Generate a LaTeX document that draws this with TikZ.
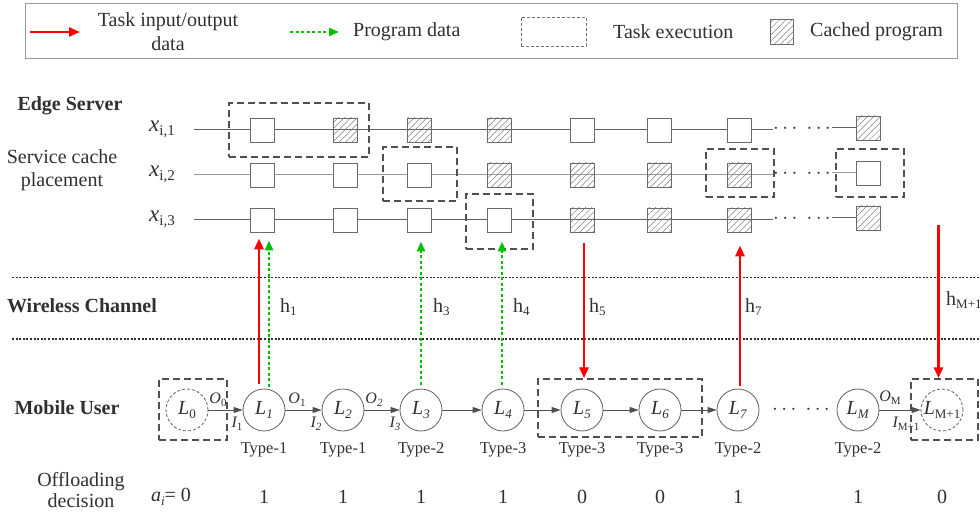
\documentclass[tikz,border=0pt]{standalone}
\usepackage{fontspec}
\setmainfont{Liberation Serif}
\usetikzlibrary{arrows.meta,patterns.meta}
\definecolor{txt}{HTML}{303030}
\definecolor{ln}{HTML}{505050}
\definecolor{lnl}{HTML}{9A9A9A}
\definecolor{redc}{HTML}{FF0000}
\definecolor{grn}{HTML}{00BE00}
\newcommand{\sbx}[2][13]{\raisebox{-0.4ex}{\fontsize{#1}{#1}\selectfont #2}}
\begin{document}
\begin{tikzpicture}[x=1pt,y=-1pt,
  lbl/.style={inner sep=0pt, text=txt, font=\fontsize{20}{23}\selectfont},
  blbl/.style={lbl, font=\fontsize{20}{23}\selectfont\bfseries},
  typ/.style={inner sep=0pt, text=txt, font=\fontsize{16.5}{18}\selectfont},
  io/.style={inner sep=0pt, text=txt, font=\fontsize{16}{18}\selectfont\itshape},
  sq/.style={draw=ln!85, line width=0.9pt, minimum size=24pt, inner sep=0pt, fill=white},
  hsq/.style={draw=ln!85, line width=0.9pt, minimum size=24pt, inner sep=0pt,
    pattern={Lines[angle=45,distance=4.5pt,line width=0.5pt]}, pattern color=gray},
  exbox/.style={draw=ln, dash pattern=on 7pt off 4pt, line width=1.4pt, inner sep=0pt},
  cir/.style={circle, draw=ln!90, line width=0.8pt, minimum size=42pt, inner sep=0pt, text=txt,
    font=\fontsize{20}{22}\selectfont},
  dcir/.style={cir, dash pattern=on 3pt off 2pt},
  flow/.style={draw=ln, line width=1pt, -{Triangle[length=9pt,width=6pt]}},
  redarr/.style={draw=redc, line width=2.8pt, -{Triangle[length=11pt,width=9pt]}},
  grnarr/.style={draw=grn, line width=2.6pt, dash pattern=on 3pt off 2.5pt, -{Triangle[length=10pt,width=8pt]}},
  divider/.style={draw=txt, line width=1.3pt, dash pattern=on 2pt off 1.6pt},
  rowd/.style={draw=ln!90, line width=1pt},
  rowl/.style={draw=lnl, line width=1pt},
  dotsl/.style={inner sep=0pt, text=txt, font=\fontsize{20}{22}\selectfont}
]
\useasboundingbox (0,0) rectangle (980,513);

% ---------------- legend ----------------
\node[draw=lnl, line width=0.8pt, minimum width=932pt, minimum height=55pt, inner sep=0pt] (legend) at (491,30.5) {};
\coordinate (lgra) at (30,32);
\coordinate (lgrb) at (80,32);
\draw[redarr, line width=2.6pt] (lgra) -- (lgrb);
\node[lbl, align=center, font=\fontsize{20}{24}\selectfont] (lgrt) at (168,32) {Task input/output\\data};
\coordinate (lgga) at (290,32);
\coordinate (lggb) at (339,32);
\draw[grnarr] (lgga) -- (lggb);
\node[lbl, anchor=west] (lggt) at (353,32) {Program data};
\node[draw=ln!80, line width=0.7pt, dash pattern=on 3pt off 2pt, minimum width=65pt, minimum height=29pt, inner sep=0pt] (lgbox) at (553.5,32) {};
\node[lbl, anchor=west] (lgbt) at (613,32) {Task execution};
\node[hsq, minimum width=23pt, minimum height=25pt] (lghs) at (782,32) {};
\node[lbl, anchor=west] (lght) at (810,32) {Cached program};

% ---------------- edge server ----------------
\node[blbl] (es) at (70,106) {Edge Server};
\node[lbl, align=center] (scp) at (62,170.5) {Service cache\\placement};
\node[lbl, font=\fontsize{23}{24}\selectfont] (x1) at (162,129) {\textit{x}\sbx[15]{i,1}};
\node[lbl, font=\fontsize{23}{24}\selectfont] (x2) at (162,174) {\textit{x}\sbx[15]{i,2}};
\node[lbl, font=\fontsize{23}{24}\selectfont] (x3) at (162,219) {\textit{x}\sbx[15]{i,3}};

% row lines
\coordinate (r1a) at (194,130); \coordinate (r1b) at (773,130); \coordinate (r1c) at (832,128);
\coordinate (r2a) at (194,175); \coordinate (r2b) at (773,175); \coordinate (r2c) at (832,173);
\coordinate (r3a) at (194,220); \coordinate (r3b) at (773,220); \coordinate (r3c) at (832,218);
\draw[rowd] (r1a) -- (r1b);
\draw[rowl] (r2a) -- (r2b);
\draw[rowd] (r3a) -- (r3b);

% squares row 1
\node[sq]  (s11) at (262,130) {};
\node[hsq] (s21) at (345,130) {};
\node[hsq] (s31) at (419,130) {};
\node[hsq] (s41) at (499,130) {};
\node[sq]  (s51) at (582,130) {};
\node[sq]  (s61) at (659,130) {};
\node[sq]  (s71) at (739,130) {};
\node[hsq] (s81) at (868,128) {};
% row 2
\node[sq]  (s12) at (262,175) {};
\node[sq]  (s22) at (345,175) {};
\node[sq]  (s32) at (419,175) {};
\node[hsq] (s42) at (499,175) {};
\node[hsq] (s52) at (582,175) {};
\node[hsq] (s62) at (659,175) {};
\node[hsq] (s72) at (739,175) {};
\node[sq]  (s82) at (868,173) {};
% row 3
\node[sq]  (s13) at (262,220) {};
\node[sq]  (s23) at (345,220) {};
\node[sq]  (s33) at (419,220) {};
\node[sq]  (s43) at (499,220) {};
\node[hsq] (s53) at (582,220) {};
\node[hsq] (s63) at (659,220) {};
\node[hsq] (s73) at (739,220) {};
\node[hsq] (s83) at (868,218) {};

\draw[rowd] (r1c) -- (s81.west);
\draw[rowl] (r2c) -- (s82.west);
\draw[rowd] (r3c) -- (s83.west);

\node[dotsl] (d1) at (802,129) {$\cdots\;\cdots$};
\node[dotsl] (d2) at (802,174) {$\cdots\;\cdots$};
\node[dotsl] (d3) at (802,219) {$\cdots\;\cdots$};

% task execution boxes (edge)
\node[exbox, minimum width=140pt, minimum height=54pt] (b1) at (299,130) {};
\node[exbox, minimum width=74pt, minimum height=54pt] (b2) at (420,174) {};
\node[exbox, minimum width=67pt, minimum height=55pt] (b3) at (499.5,221.5) {};
\node[exbox, minimum width=68pt, minimum height=48pt] (b4) at (740,173) {};
\node[exbox, minimum width=68pt, minimum height=48pt] (b5) at (870,173) {};

% ---------------- wireless channel ----------------
\coordinate (dv1a) at (12,277.5); \coordinate (dv1b) at (980,277.5);
\coordinate (dv2a) at (12,339); \coordinate (dv2b) at (980,339);
\draw[divider] (dv1a) -- (dv1b);
\draw[divider] (dv2a) -- (dv2b);
\node[blbl] (wc) at (82,306) {Wireless Channel};

% ---------------- mobile user ----------------
\node[blbl] (mu) at (67,408) {Mobile User};
\node[dcir] (L0) at (187,410) {\textit{L}\sbx{0}};
\node[cir] (L1) at (264,410) {\textit{L}\sbx{\textit{1}}};
\node[cir] (L2) at (343,410) {\textit{L}\sbx{\textit{2}}};
\node[cir] (L3) at (421,410) {\textit{L}\sbx{\textit{3}}};
\node[cir] (L4) at (503,410) {\textit{L}\sbx{\textit{4}}};
\node[cir] (L5) at (582,410) {\textit{L}\sbx{\textit{5}}};
\node[cir] (L6) at (660,410) {\textit{L}\sbx{\textit{6}}};
\node[cir] (L7) at (738,410) {\textit{L}\sbx{\textit{7}}};
\node[cir] (LM) at (858,410) {\textit{L}\sbx{\textit{M}}};
\node[dcir] (LM1) at (942,410) {\textit{L}\sbx{M+1}};
\node[dotsl] (dm) at (801,410) {$\cdots\;\cdots$};

\draw[flow] (L0) -- (L1);
\draw[flow] (L1) -- (L2);
\draw[flow] (L2) -- (L3);
\draw[flow] (L3) -- (L4);
\draw[flow] (L4) -- (L5);
\draw[flow] (L5) -- (L6);
\draw[flow] (L6) -- (L7);
\draw[flow] (LM) -- (LM1);

% input/output labels
\node[io] (o0) at (218,400) {O\sbx[11]{\upshape 0}};
\node[io] (i1) at (237,424) {I\sbx[11]{\upshape 1}};
\node[io] (o1) at (297,400) {O\sbx[11]{\upshape 1}};
\node[io] (i2) at (316,424) {I\sbx[11]{2}};
\node[io] (o2) at (374,400) {O\sbx[11]{2}};
\node[io] (i3) at (395,424) {I\sbx[11]{3}};
\node[io] (om) at (890,398) {O\sbx[11]{\upshape M}};
\node[io] (im) at (906,424) {I\sbx[11]{\upshape M+1}};

% task execution boxes (user)
\node[exbox, minimum width=68pt, minimum height=61pt] (b0) at (193,409.5) {};
\node[exbox, minimum width=164pt, minimum height=58pt] (b56) at (620,408) {};
\node[exbox, minimum width=67pt, minimum height=61pt] (bm) at (944.5,409.5) {};

% types
\node[typ] (t1) at (264,450) {Type-1};
\node[typ] (t2) at (343,450) {Type-1};
\node[typ] (t3) at (421,450) {Type-2};
\node[typ] (t4) at (503,450) {Type-3};
\node[typ] (t5) at (582,450) {Type-3};
\node[typ] (t6) at (660,450) {Type-3};
\node[typ] (t7) at (738,450) {Type-2};
\node[typ] (tm) at (858,450) {Type-2};

% offloading decision
\node[lbl, align=center, font=\fontsize{20}{21}\selectfont] (od) at (81,490) {Offloading\\decision};
\node[lbl] (ai) at (171,497) {\textit{a}\sbx{\textit{i}}= 0};
\node[lbl] (v1) at (264,497) {1};
\node[lbl] (v2) at (343,497) {1};
\node[lbl] (v3) at (421,497) {1};
\node[lbl] (v4) at (503,497) {1};
\node[lbl] (v5) at (582,497) {0};
\node[lbl] (v6) at (660,497) {0};
\node[lbl] (v7) at (738,497) {1};
\node[lbl] (vm) at (858,497) {1};
\node[lbl] (vm1) at (942,497) {0};

% ---------------- vertical transfers ----------------
\draw[redarr] ([xshift=-5pt,yshift=5pt]L1.north) -- ([xshift=-3pt,yshift=-6pt]s13.south);
\draw[grnarr] ([xshift=5pt,yshift=2pt]L1.north) -- ([xshift=7pt,yshift=-8pt]s13.south);
\draw[grnarr] ([yshift=4pt]L3.north) -- ([xshift=2pt,yshift=-9pt]s33.south);
\draw[grnarr] ([xshift=-1pt,yshift=4pt]L4.north) -- ([xshift=3pt,yshift=-9pt]s43.south);
\draw[redarr] ([xshift=2pt,yshift=-11pt]s53.south) -- ([xshift=2pt]b56.north -| L5.north);
\draw[redarr] ([xshift=2pt,yshift=3pt]L7.north) -- ([xshift=1pt,yshift=-13pt]s73.south);
\coordinate (tm1) at (938.5,225);
\draw[redarr] (tm1) -- ([xshift=-3.5pt]bm.north -| LM1.north);

% channel labels
\node[lbl, anchor=west] (h1) at (280,307) {h\sbx{1}};
\node[lbl, anchor=west] (h3) at (433,307) {h\sbx{3}};
\node[lbl, anchor=west] (h4) at (513,307) {h\sbx{4}};
\node[lbl, anchor=west] (h5) at (589,307) {h\sbx{5}};
\node[lbl, anchor=west] (h7) at (745,307) {h\sbx{7}};
\node[lbl, anchor=west] (hm) at (946,300) {h\sbx{M+1}};
\end{tikzpicture}
\end{document}
